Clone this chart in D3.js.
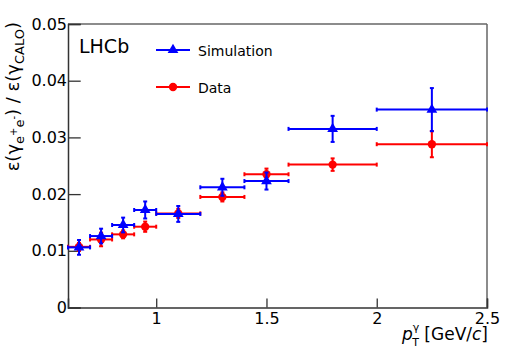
<!DOCTYPE html>
<html>
<head>
<meta charset="utf-8">
<script src="https://cdn.jsdelivr.net/npm/d3@7"></script>
<style>
  html, body { margin: 0; padding: 0; background: #fff; }
  svg { display: block; }
  text { font-family: "DejaVu Sans", sans-serif; }
</style>
</head>
<body>
<script>
// ---- data ----
const binLo     = [0.6, 0.7, 0.8, 0.9, 1.0, 1.2, 1.4, 1.6, 2.0];
const binHi     = [0.7, 0.8, 0.9, 1.0, 1.2, 1.4, 1.6, 2.0, 2.5];
const binCenter = [0.65, 0.75, 0.85, 0.95, 1.1, 1.3, 1.5, 1.8, 2.25];
const simValues  = [0.0106, 0.0126, 0.01455, 0.0172, 0.0165, 0.0212, 0.0223, 0.0315, 0.0349];
const simErrors  = [0.0013, 0.0013, 0.0013, 0.0015, 0.0014, 0.0015, 0.0015, 0.0023, 0.0038];
const dataValues = [0.0107, 0.0120, 0.0129, 0.01425, 0.0166, 0.0195, 0.0235, 0.0252, 0.0288];
const dataErrors = [0.0007, 0.0012, 0.0007, 0.0009, 0.0008, 0.0008, 0.0010, 0.0011, 0.0023];
const xMajorTicks = [1, 1.5, 2, 2.5];
const xMinorTicks = [0.6, 0.7, 0.8, 0.9, 1.1, 1.2, 1.3, 1.4, 1.6, 1.7, 1.8, 1.9, 2.1, 2.2, 2.3, 2.4];
const yMajorTicks = [0, 0.01, 0.02, 0.03, 0.04, 0.05];
const yMinorTicks = d3.range(0, 0.0501, 0.002).filter(v => Math.abs(v / 0.01 - Math.round(v / 0.01)) > 1e-6);
const yTickLabels = ["0", "0.01", "0.02", "0.03", "0.04", "0.05"];
const seriesNames = ["Simulation", "Data"];
const seriesColors = ["#0000ff", "#ff0000"];

const W = 523, H = 354;
const L = 68, R = 487, T = 24, B = 307.5;

const svg = d3.select("body").append("svg").attr("width", W).attr("height", H);

const x = d3.scaleLinear().domain([0.6, 2.5]).range([L, R]);
const y = d3.scaleLinear().domain([0, 0.05]).range([B, T]);

const axisColor = "#333";

// frame top/right
svg.append("line").attr("x1", L).attr("x2", R).attr("y1", T).attr("y2", T)
  .attr("stroke", "#666").attr("stroke-width", 1.5);
svg.append("line").attr("x1", R).attr("x2", R).attr("y1", T).attr("y2", B)
  .attr("stroke", "#666").attr("stroke-width", 1.5);

// x axis
const gx = svg.append("g").attr("transform", `translate(0,${B})`);
gx.call(d3.axisBottom(x).tickValues(xMinorTicks).tickSize(-4.5).tickFormat(""));
gx.call(d3.axisBottom(x).tickValues(xMajorTicks).tickSize(-9).tickPadding(5.5)
  .tickFormat(d => String(d)));
gx.selectAll("path.domain").attr("stroke", axisColor).attr("stroke-width", 1.5);
gx.selectAll("line").attr("stroke", axisColor).attr("stroke-width", 1.3);
gx.selectAll("text").attr("font-size", 16).attr("fill", "#000")
  .attr("font-family", "DejaVu Sans");

// y axis
const gy = svg.append("g").attr("transform", `translate(${L},0)`);
gy.call(d3.axisLeft(y).tickValues(yMinorTicks).tickSize(-6).tickFormat(""));
gy.call(d3.axisLeft(y).tickValues(yMajorTicks).tickSize(-12.7).tickPadding(1)
  .tickFormat((d, i) => yTickLabels[i]));
gy.selectAll("path.domain").attr("stroke", axisColor).attr("stroke-width", 1.5);
gy.selectAll("line").attr("stroke", axisColor).attr("stroke-width", 1.3);
gy.selectAll("text").attr("font-size", 16).attr("fill", "#000")
  .attr("font-family", "DejaVu Sans");

// x title
const xt = svg.append("text").attr("x", R + 1).attr("y", 340)
  .attr("text-anchor", "end").attr("font-size", 17).attr("fill", "#000");
xt.append("tspan").attr("font-style", "italic").text("p");
xt.append("tspan").attr("font-size", 11).attr("dy", -9).text("γ");
xt.append("tspan").attr("font-size", 11).attr("dx", -7).attr("dy", 15).text("T");
xt.append("tspan").attr("dy", -6).text(" [GeV/");
xt.append("tspan").attr("font-style", "italic").text("c");
xt.append("tspan").text("]");

// y title
const yt = svg.append("text").attr("transform", "translate(19,22) rotate(-90)")
  .attr("text-anchor", "end").attr("font-size", 18).attr("fill", "#000");
yt.append("tspan").text("ε(γ");
yt.append("tspan").attr("font-size", 13).attr("dy", 5).text("e");
yt.append("tspan").attr("font-size", 10).attr("dy", -7).text("+");
yt.append("tspan").attr("font-size", 13).attr("dy", 7).text("e");
yt.append("tspan").attr("font-size", 10).attr("dy", -7).text("-");
yt.append("tspan").attr("dy", 2).text(") / ε(γ");
yt.append("tspan").attr("font-size", 13).attr("dy", 5).text("CALO");
yt.append("tspan").attr("dy", -5).text(")");

// LHCb label
svg.append("text").attr("x", 79).attr("y", 53).attr("font-size", 19)
  .attr("fill", "#000").text("LHCb");

// series drawing
function drawSeries(vals, errs, color, marker) {
  const g = svg.append("g").attr("stroke", color).attr("fill", color);
  const cap = 2;
  binCenter.forEach((c, i) => {
    const yc = y(vals[i]);
    const x0 = x(binLo[i]), x1 = x(binHi[i]);
    const y0 = y(vals[i] - errs[i]), y1 = y(vals[i] + errs[i]);
    const xc = x(c);
    g.append("line").attr("x1", x0).attr("x2", x1).attr("y1", yc).attr("y2", yc).attr("stroke-width", 2);
    g.append("line").attr("x1", x0).attr("x2", x0).attr("y1", yc - cap).attr("y2", yc + cap).attr("stroke-width", 2);
    g.append("line").attr("x1", x1).attr("x2", x1).attr("y1", yc - cap).attr("y2", yc + cap).attr("stroke-width", 2);
    g.append("line").attr("x1", xc).attr("x2", xc).attr("y1", y0).attr("y2", y1).attr("stroke-width", 2);
    g.append("line").attr("x1", xc - cap).attr("x2", xc + cap).attr("y1", y0).attr("y2", y0).attr("stroke-width", 2);
    g.append("line").attr("x1", xc - cap).attr("x2", xc + cap).attr("y1", y1).attr("y2", y1).attr("stroke-width", 2);
  });
  g.selectAll("path.mk").data(binCenter).join("path").attr("class", "mk")
    .attr("transform", (c, i) => `translate(${x(c)},${y(vals[i])})`)
    .attr("d", marker).attr("stroke", "none");
}
const tri = d3.symbol().type(d3.symbolTriangle).size(50)();
const circ = d3.symbol().type(d3.symbolCircle).size(55)();
drawSeries(dataValues, dataErrors, seriesColors[1], circ);
drawSeries(simValues, simErrors, seriesColors[0], tri);

// legend
const legY = [50, 87];
const markers = [tri, circ];
seriesNames.forEach((name, i) => {
  const g = svg.append("g");
  g.append("line").attr("x1", 156).attr("x2", 190).attr("y1", legY[i]).attr("y2", legY[i])
    .attr("stroke", seriesColors[i]).attr("stroke-width", 2);
  g.append("path").attr("d", markers[i]).attr("fill", seriesColors[i])
    .attr("transform", `translate(173,${legY[i]})`);
  g.append("text").attr("x", 198).attr("y", legY[i] + 5.5).attr("font-size", 14)
    .attr("fill", "#000").text(name);
});
</script>
</body>
</html>
